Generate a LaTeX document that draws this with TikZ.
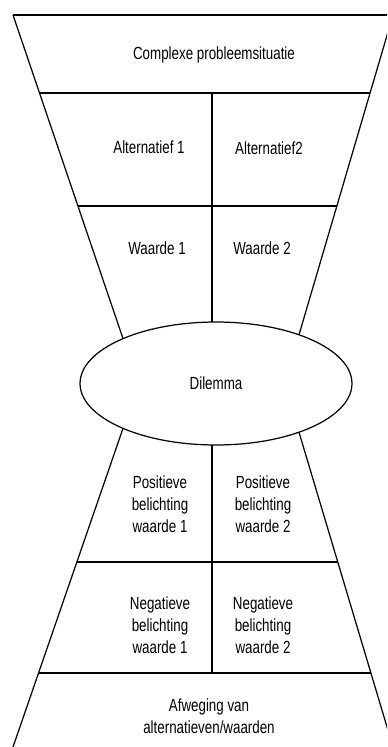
\documentclass[tikz,border=0pt]{standalone}
\usepackage{fontspec}
\setmainfont{Liberation Sans}[FakeStretch=0.76]
\usetikzlibrary{shapes.geometric}

\begin{document}
\begin{tikzpicture}[
    x=0.02cm, y=-0.02cm,
    line width=0.7pt,
    txt/.style={font=\fontsize{10}{12.5}\selectfont, align=center, inner sep=0pt},
    dilemmabox/.style={ellipse, draw, minimum width=5.44cm, minimum height=2.46cm, inner sep=0pt, font=\fontsize{10}{12.5}\selectfont}
]
\useasboundingbox (0,0) rectangle (387,747);
\clip (0,0) rectangle (387,747);

% Funnel corners and junctions with the ellipse
\coordinate (TL) at (13,15);
\coordinate (TR) at (393,15);
\coordinate (BL) at (13,747);
\coordinate (BR) at (393,747);
\coordinate (JL1) at (123,338.6);
\coordinate (JR1) at (299,334.8);
\coordinate (JL2) at (123,428.4);
\coordinate (JR2) at (299,432.2);

% Center
\node[dilemmabox] (dilemma) at (216,383.5) {Dilemma};

% Upper funnel
\draw (TL) -- (TR);
\draw (TL) -- (JL1);
\draw (TR) -- (JR1);
\draw (39.5,93) -- (370.1,93);
\draw (77.9,206) -- (336.9,206);
\draw (212,93) -- (212,322);

% Lower funnel
\draw (JL2) -- (BL);
\draw (JR2) -- (BR);
\draw (76.9,562) -- (337.8,562);
\draw (38.5,673) -- (370.9,673);
\draw (212,445) -- (212,673);

% Texts
\node[txt] (probleem) at (214,55) {Complexe probleemsituatie};
\node[txt] (alt1) at (149,147) {Alternatief 1};
\node[txt] (alt2) at (269,148) {Alternatief2};
\node[txt] (waarde1) at (157,248) {Waarde 1};
\node[txt] (waarde2) at (262,248) {Waarde 2};
\node[txt] (pos1) at (160,504) {Positieve\\belichting\\waarde 1};
\node[txt] (pos2) at (263,504) {Positieve\\belichting\\waarde 2};
\node[txt] (neg1) at (160,625) {Negatieve\\belichting\\waarde 1};
\node[txt] (neg2) at (263,625) {Negatieve\\belichting\\waarde 2};
\node[txt] (afweging) at (209,716) {Afweging van\\alternatieven/waarden};

\end{tikzpicture}
\end{document}
